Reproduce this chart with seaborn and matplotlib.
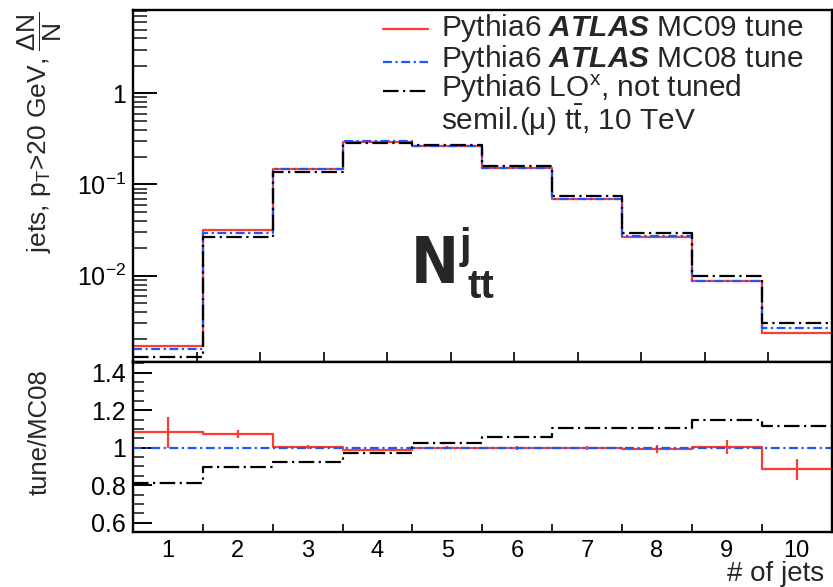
import numpy as np
import pandas as pd
import matplotlib
matplotlib.use("Agg")
import matplotlib.pyplot as plt
import seaborn as sns
from matplotlib.lines import Line2D
from matplotlib.ticker import (FixedLocator, FixedFormatter, MultipleLocator,
                               LogLocator, NullFormatter)

# ---- data -------------------------------------------------------------
n_jets = [1, 2, 3, 4, 5, 6, 7, 8, 9, 10]
bin_edges = [0.5, 1.5, 2.5, 3.5, 4.5, 5.5, 6.5, 7.5, 8.5, 9.5, 10.5]

# normalised jet multiplicity, MC08 tune (reference)
frac_mc08 = [0.00158, 0.0293, 0.1485, 0.297, 0.267, 0.151, 0.0686, 0.0269, 0.00867, 0.00268]
# ratios to MC08
ratio_mc09 = [1.082, 1.072, 1.003, 0.988, 1.0, 1.0, 1.0, 0.991, 1.003, 0.885]
ratio_mc09_err = [0.083, 0.02, 0.012, 0.008, 0.008, 0.01, 0.01, 0.022, 0.037, 0.056]
ratio_lo = [0.81, 0.899, 0.925, 0.97, 1.027, 1.059, 1.103, 1.103, 1.148, 1.116]

legend_labels = [r"Pythia6 $\mathbfit{ATLAS}$ MC09 tune",
                 r"Pythia6 $\mathbfit{ATLAS}$ MC08 tune",
                 r"Pythia6 LO$^{\mathrm{x}}$, not tuned"]
info_label = r"semil.(μ) t$\bar{\mathrm{t}}$, 10 TeV"
top_ytick_values = [1e-2, 1e-1, 1.0]
top_ytick_labels = [r"$\mathregular{10^{-2}}$", r"$\mathregular{10^{-1}}$", "1"]
ratio_ytick_values = [0.6, 0.8, 1.0, 1.2, 1.4]
ratio_ytick_labels = ["0.6", "0.8", "1", "1.2", "1.4"]
xtick_labels = [str(n) for n in n_jets]

df = pd.DataFrame({
    "n_jets": n_jets,
    "mc08": frac_mc08,
    "mc09": np.array(frac_mc08) * np.array(ratio_mc09),
    "lo": np.array(frac_mc08) * np.array(ratio_lo),
    "r_mc09": ratio_mc09,
    "r_mc08": np.ones(len(n_jets)),
    "r_lo": ratio_lo,
})

# ---- style ------------------------------------------------------------
sns.set_theme(style="white")
plt.rcParams["font.family"] = ["Liberation Sans", "DejaVu Sans"]
plt.rcParams["mathtext.fontset"] = "custom"
plt.rcParams["mathtext.rm"] = "Liberation Sans"
plt.rcParams["mathtext.it"] = "Liberation Sans:italic"
plt.rcParams["mathtext.bf"] = "Liberation Sans:bold"
if "mathtext.bfit" in plt.rcParams:
    plt.rcParams["mathtext.bfit"] = "Liberation Sans:italic:bold"

RED = "#ff3d2e"
BLUE = "#1f55ff"
BLACK = "#000000"
LW = 1.6
STY_MC08 = (0, (4, 1.6, 1, 1.6))
STY_LO = (0, (7, 2, 1, 2))

W, H = 833, 587
fig = plt.figure(figsize=(W / 100, H / 100), dpi=100)


def fx(px):
    return px / W


def fy(py):
    return 1 - py / H


ax_top = fig.add_axes([fx(133), fy(362), fx(831.5) - fx(133), fy(10) - fy(362)])
ax_rat = fig.add_axes([fx(133), fy(532), fx(831.5) - fx(133), fy(362) - fy(532)])

# ---- upper panel: distributions ---------------------------------------
sns.histplot(data=df, x="n_jets", weights="mc09", bins=bin_edges, element="step",
             fill=False, color=RED, linewidth=LW, ax=ax_top)
sns.histplot(data=df, x="n_jets", weights="mc08", bins=bin_edges, element="step",
             fill=False, color=BLUE, linewidth=LW, linestyle=STY_MC08, ax=ax_top)
sns.histplot(data=df, x="n_jets", weights="lo", bins=bin_edges, element="step",
             fill=False, color=BLACK, linewidth=LW, linestyle=STY_LO, ax=ax_top)
ax_top.set_yscale("log")
ax_top.set_xlim(0.5, 10.5)
ax_top.set_ylim(1.13e-3, 8.2)

# ---- lower panel: ratios ---------------------------------------------
sns.histplot(data=df, x="n_jets", weights="r_mc09", bins=bin_edges, element="step",
             fill=False, color=RED, linewidth=LW, ax=ax_rat)
ax_rat.errorbar(df["n_jets"], df["r_mc09"], yerr=ratio_mc09_err, fmt="none",
                ecolor=RED, elinewidth=LW, capsize=0)
sns.histplot(data=df, x="n_jets", weights="r_mc08", bins=bin_edges, element="step",
             fill=False, color=BLUE, linewidth=LW, linestyle=STY_MC08, ax=ax_rat)
sns.histplot(data=df, x="n_jets", weights="r_lo", bins=bin_edges, element="step",
             fill=False, color=BLACK, linewidth=LW, linestyle=STY_LO, ax=ax_rat)
ax_rat.set_xlim(0.5, 10.5)
ax_rat.set_ylim(0.55, 1.457)

# ---- axes decoration --------------------------------------------------
for ax in (ax_top, ax_rat):
    ax.set_xlabel("")
    ax.set_ylabel("")
    for sp in ax.spines.values():
        sp.set_visible(True)
        sp.set_color("black")
        sp.set_linewidth(1.7)

ax_top.xaxis.set_major_locator(FixedLocator(0.5 + np.arange(1, 11) * 10 / 11))
ax_top.xaxis.set_major_formatter(NullFormatter())
ax_top.xaxis.set_minor_locator(FixedLocator([]))
ax_top.tick_params(axis="x", which="major", direction="in", length=7, width=1.4,
                   bottom=True, top=False, labelbottom=False)
ax_top.yaxis.set_major_locator(FixedLocator(top_ytick_values))
ax_top.yaxis.set_major_formatter(FixedFormatter(top_ytick_labels))
ax_top.yaxis.set_minor_locator(LogLocator(base=10, subs=np.arange(2, 10) * 1.0, numticks=20))
ax_top.yaxis.set_minor_formatter(NullFormatter())
ax_top.tick_params(axis="y", which="major", direction="in", length=17, width=1.4,
                   left=True, right=False, labelsize=18, pad=5, colors="black")
ax_top.tick_params(axis="y", which="minor", direction="in", length=10, width=1.2,
                   left=True, right=False)

ax_rat.xaxis.set_major_locator(FixedLocator(n_jets))
ax_rat.xaxis.set_major_formatter(FixedFormatter(xtick_labels))
ax_rat.xaxis.set_minor_locator(FixedLocator(bin_edges[1:-1]))
ax_rat.tick_params(axis="x", which="major", length=0, labelsize=17, pad=6,
                   bottom=True, top=False, colors="black")
ax_rat.tick_params(axis="x", which="minor", direction="in", length=6, width=1.4,
                   bottom=True, top=False)
ax_rat.yaxis.set_major_locator(FixedLocator(ratio_ytick_values))
ax_rat.yaxis.set_major_formatter(FixedFormatter(ratio_ytick_labels))
ax_rat.yaxis.set_minor_locator(MultipleLocator(0.05))
ax_rat.tick_params(axis="y", which="major", direction="in", length=14, width=1.4,
                   left=True, right=False, labelsize=18, pad=5, colors="black")
ax_rat.tick_params(axis="y", which="minor", direction="in", length=8, width=1.2,
                   left=True, right=False)

# ---- titles -----------------------------------------------------------
fig.text(fx(40), fy(12),
         r"jets, p$_{\mathrm{T}}$>20 GeV, $\dfrac{\Delta\mathrm{N}}{\mathrm{N}}$",
         rotation=90, ha="center", va="top", fontsize=19)
fig.text(fx(40), fy(369), "tune/MC08", rotation=90, ha="center", va="top", fontsize=18.5)
fig.text(fx(824), fy(574), "# of jets", ha="right", va="center", fontsize=20)

# ---- legend (keys drawn as short lines, one row per sample) -----------
key_styles = [dict(color=RED, lw=LW),
              dict(color=BLUE, lw=LW, linestyle=STY_MC08),
              dict(color=BLACK, lw=LW, linestyle=STY_LO)]
key_y = [29, 61.5, 91]
text_baseline = [35.5, 67, 97]
for style, yk, yb, label in zip(key_styles, key_y, text_baseline, legend_labels):
    fig.add_artist(Line2D([fx(383), fx(428)], [fy(yk), fy(yk)],
                          transform=fig.transFigure, **style))
    fig.text(fx(441), fy(yb), label, fontsize=21.5, ha="left", va="baseline")
fig.text(fx(441), fy(130), info_label, fontsize=21.5, ha="left", va="baseline")

# ---- process label ----------------------------------------------------
fig.text(fx(411), fy(283), "N", fontsize=46, fontweight="bold",
         family=["DejaVu Sans", "Liberation Sans"], fontstretch="condensed",
         va="baseline", ha="left")
fig.text(fx(460), fy(258), "j", fontsize=30, fontweight="bold", va="baseline", ha="left")
fig.text(fx(468), fy(298), "tt", fontsize=29, fontweight="bold", va="baseline", ha="left")

fig.savefig("out.png", dpi=100)
